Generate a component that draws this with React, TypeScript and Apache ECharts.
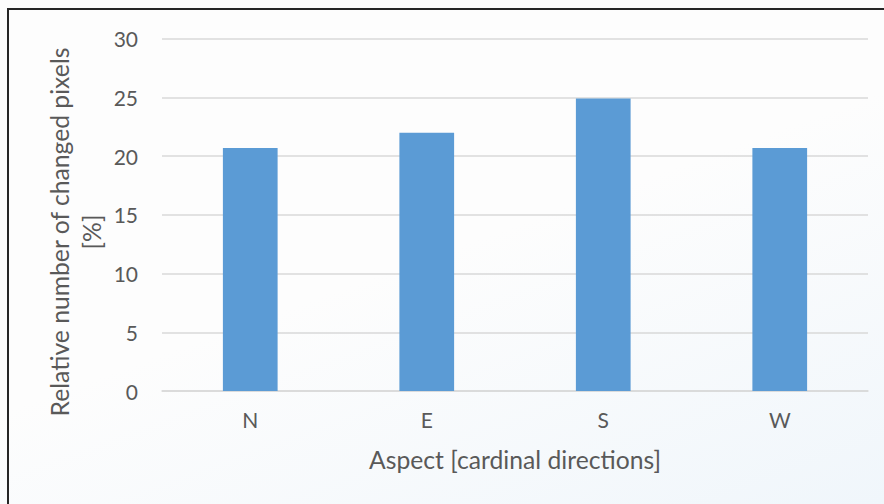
import React, { useEffect, useRef } from 'react';
import * as echarts from 'echarts';

// Share of changed pixels per aspect class (cardinal direction), in percent
const categories = ['N', 'E', 'S', 'W'];
const changedPixels = [20.7, 22.0, 24.9, 20.7];

// Value axis range
const yMin = 0;
const yMax = 30;
const yStep = 5;

const xAxisTitle = 'Aspect [cardinal directions]';
const yAxisTitle = 'Relative number of changed pixels\n[%]';

const FONT = 'Lato, Calibri, "Noto Sans", sans-serif';
const TEXT = '#595959';
const GRID = '#d9d9d9';
const BAR = '#5b9bd5';

export default function App() {
  const ref = useRef<HTMLDivElement>(null);

  useEffect(() => {
    if (!ref.current) return;
    const chart = echarts.init(ref.current, undefined, { renderer: 'svg' });
    chart.setOption({
      animation: false,
      backgroundColor: 'transparent',
      grid: { left: 162, right: 16, top: 38.7, bottom: 113 },
      xAxis: {
        type: 'category',
        data: categories,
        axisLine: { show: true, lineStyle: { color: GRID, width: 1.5 } },
        axisTick: { show: false },
        axisLabel: { color: TEXT, fontSize: 21, fontFamily: FONT, margin: 18 },
        name: xAxisTitle,
        nameLocation: 'middle',
        nameGap: 56,
        nameTextStyle: { color: TEXT, fontSize: 24.7, fontFamily: FONT },
      },
      yAxis: {
        type: 'value',
        min: yMin,
        max: yMax,
        interval: yStep,
        axisLine: { show: false },
        axisTick: { show: false },
        axisLabel: { color: TEXT, fontSize: 21, fontFamily: FONT, margin: 24 },
        splitLine: { lineStyle: { color: GRID, width: 1.5 } },
      },
      graphic: [
        {
          type: 'text',
          x: 75.5,
          y: 232,
          rotation: Math.PI / 2,
          style: {
            text: yAxisTitle,
            fill: TEXT,
            fontSize: 24.7,
            fontFamily: FONT,
            lineHeight: 32,
            align: 'center',
            verticalAlign: 'middle',
          },
        },
      ],
      series: [
        {
          type: 'bar',
          data: changedPixels,
          barWidth: '31%',
          itemStyle: { color: BAR },
        },
      ],
    });
    return () => chart.dispose();
  }, []);

  return (
    <div
      style={{
        position: 'fixed',
        left: 0,
        top: 0,
        width: 884,
        height: 504,
        overflow: 'hidden',
        background: 'linear-gradient(160deg, #fdfdfd 50%, #f0f6fb 100%)',
      }}
    >
      <div
        style={{
          position: 'absolute',
          left: 7,
          top: 8,
          width: 900,
          height: 520,
          borderLeft: '2px solid #262626',
          borderTop: '2px solid #262626',
          boxSizing: 'border-box',
        }}
      />
      <div ref={ref} style={{ position: 'absolute', left: 0, top: 0, width: 884, height: 504 }} />
    </div>
  );
}
